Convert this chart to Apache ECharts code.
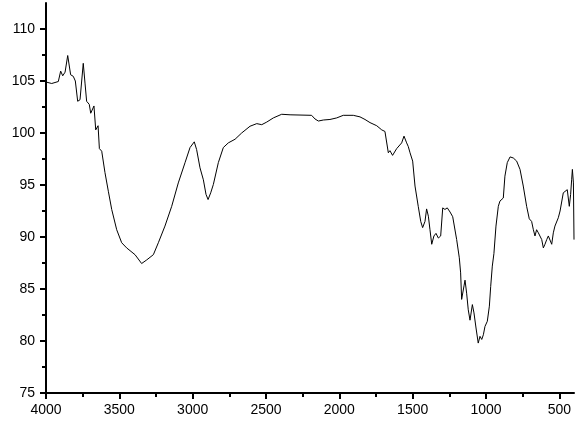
<!DOCTYPE html>
<html>
<head>
<meta charset="utf-8">
<script src="https://cdn.jsdelivr.net/npm/echarts@6/dist/echarts.min.js"></script>
<style>
html,body{margin:0;padding:0;background:#fff;}
#chart{width:587px;height:426px;}
</style>
</head>
<body>
<div id="chart"></div>
<script>
const wavenumber = [
4000,3961,3916,3900,3886,3870,3852,3832,3814,3800,3784,3768,3746,3734,3723,3705,3695,3673,3661,3645,
3636,3620,3598,3575,3552,3518,3484,3450,3393,3348,3313,3268,3234,3189,3143,3098,3052,3018,2989,2973,
2950,2927,2909,2895,2877,2859,2825,2791,2757,2711,2666,2609,2563,2529,2495,2450,2393,2336,2189,2166,
2143,2109,2064,2018,1973,1905,1859,1825,1791,1745,1711,1689,1666,1655,1637,1609,1575,1559,1541,1530,
1518,1500,1484,1462,1445,1432,1416,1405,1393,1382,1370,1355,1341,1325,1309,1295,1280,1264,1245,1227,
1218,1200,1182,1173,1166,1150,1143,1132,1121,1109,1093,1082,1068,1053,1041,1029,1018,1007,991,977,
968,957,946,932,916,905,893,882,871,855,836,814,791,768,746,723,705,689,677,666,
655,643,632,620,609,598,586,575,564,552,541,530,518,507,495,484,473,461,446,432,
423,416,411,404,400
];
const transmittance = [
104.9,104.76,104.95,105.95,105.5,105.85,107.45,105.6,105.45,105.0,103.05,103.2,106.7,104.8,103.05,102.75,101.9,102.6,100.3,100.7,
98.5,98.25,96.2,94.4,92.65,90.7,89.45,88.95,88.3,87.45,87.8,88.3,89.45,91.05,92.95,95.2,97.15,98.6,99.15,98.4,
96.65,95.5,94.1,93.6,94.25,95.05,97.15,98.6,99.05,99.4,100.0,100.65,100.9,100.8,101.05,101.45,101.8,101.75,101.7,101.35,
101.15,101.25,101.3,101.45,101.7,101.7,101.55,101.3,101.0,100.7,100.3,100.15,98.1,98.3,97.85,98.5,99.05,99.7,99.05,98.7,
98.1,97.3,94.9,92.95,91.5,90.9,91.5,92.7,92.0,90.7,89.3,90.1,90.35,89.9,90.1,92.8,92.65,92.8,92.4,91.95,
92.0,89.75,88.0,86.55,84.0,85.3,85.85,84.6,83.0,82.0,83.5,82.7,81.25,79.8,80.45,80.15,80.6,81.4,81.9,83.35,
85.25,87.2,88.4,91.05,92.95,93.45,93.3,93.75,95.85,97.15,97.7,97.6,97.3,96.5,94.9,92.95,91.75,91.5,90.7,90.1,
90.7,90.4,90.55,89.75,88.95,89.3,89.75,90.1,90.25,89.3,90.4,91.05,90.9,91.85,92.5,92.65,94.25,94.4,94.55,92.95,
94.1,95.5,96.5,95.2,89.75
];
const xMajorTicks = [4000,3500,3000,2500,2000,1500,1000,500];
const xMinorTicks = [3750,3250,2750,2250,1750,1250,750];
const yMajorTicks = [75,80,85,90,95,100,105,110];
const yMinorTicks = [77.5,82.5,87.5,92.5,97.5,102.5,107.5];

const points = wavenumber.map((w, i) => [w, transmittance[i]]);
const font = 'Arial, "Liberation Sans", sans-serif';
const chart = echarts.init(document.getElementById('chart'), null, {renderer: 'canvas'});
const plain = v => String(v);

function xAx(ticks, major) {
  return {
    type: 'value', min: 400, max: 4000, inverse: true, position: 'bottom',
    axisLine: {show: major, onZero: false, lineStyle: {color: '#000', width: 2}},
    axisTick: {show: true, customValues: ticks, length: major ? 6 : 4, lineStyle: {color: '#000', width: 2}},
    axisLabel: major ? {show: true, customValues: ticks, formatter: plain, color: '#000', fontFamily: font, fontSize: 14, margin: 10} : {show: false},
    splitLine: {show: false}
  };
}
function yAx(ticks, major) {
  return {
    type: 'value', min: 75, max: 112.5, position: 'left',
    axisLine: {show: major, onZero: false, lineStyle: {color: '#000', width: 2}},
    axisTick: {show: true, customValues: ticks, length: major ? 6 : 4, lineStyle: {color: '#000', width: 2}},
    axisLabel: major ? {show: true, customValues: ticks, formatter: plain, color: '#000', fontFamily: font, fontSize: 14, margin: 11} : {show: false},
    splitLine: {show: false}
  };
}

chart.setOption({
  animation: false,
  backgroundColor: '#fff',
  grid: {left: 46, right: 13, top: 3, bottom: 33, containLabel: false},
  xAxis: [xAx(xMajorTicks, true), xAx(xMinorTicks, false)],
  yAxis: [yAx(yMajorTicks, true), yAx(yMinorTicks, false)],
  series: [{
    type: 'line',
    data: points,
    showSymbol: false,
    symbol: 'none',
    smooth: false,
    lineStyle: {color: '#000', width: 1},
    silent: true
  }]
});
</script>
</body>
</html>
